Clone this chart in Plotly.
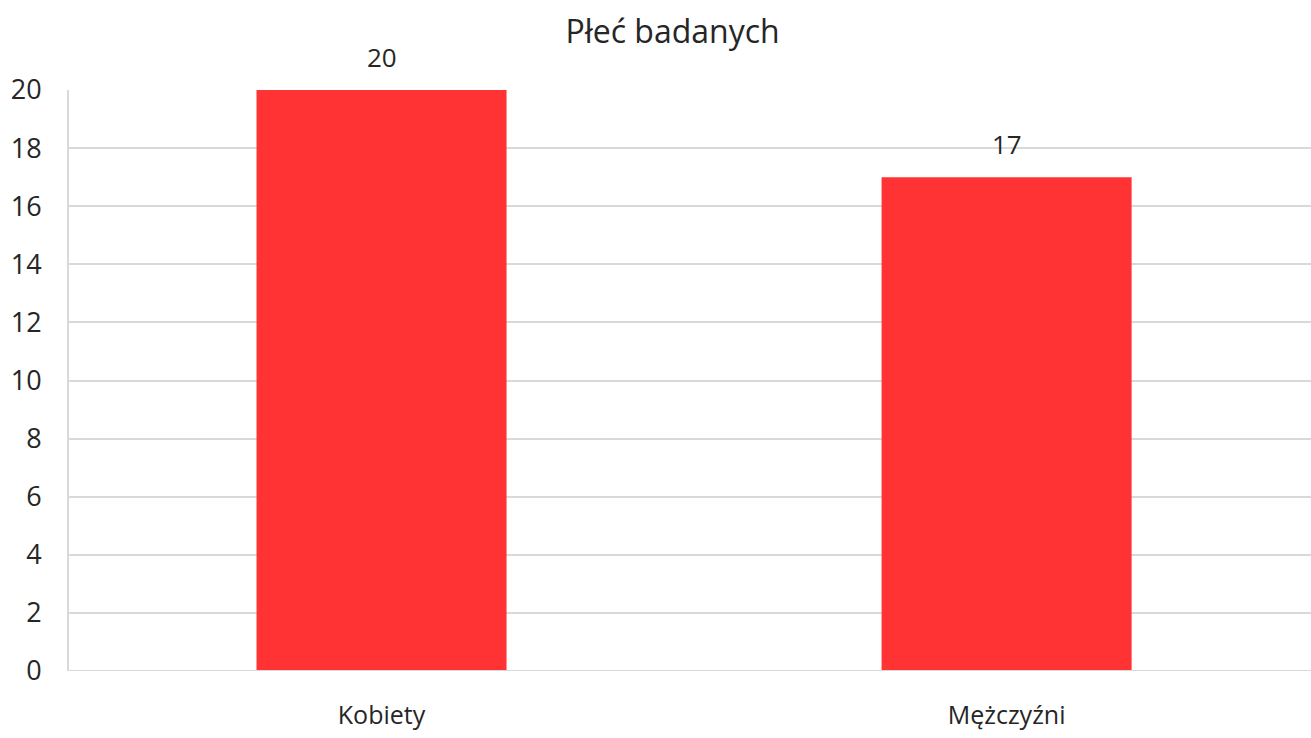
import plotly.graph_objects as go

categories = ["Kobiety", "Mężczyźni"]
values = [20, 17]
title_text = "Płeć badanych"
y_ticks = [0, 2, 4, 6, 8, 10, 12, 14, 16, 18, 20]

FONT = "Open Sans"
fig = go.Figure()
fig.add_trace(go.Bar(
    x=[0, 1], y=values, width=0.4,
    marker=dict(color="#FF3333", line=dict(width=0)),
    hoverinfo="skip",
))
for i, v in enumerate(values):
    fig.add_annotation(x=i, y=v, text=str(v), showarrow=False, yanchor="bottom",
                       yshift=13, font=dict(family=FONT, size=26, color="#262626"))

fig.update_layout(
    width=1311, height=738,
    margin=dict(l=69, r=0, t=90, b=67),
    paper_bgcolor="white", plot_bgcolor="white",
    showlegend=False,
    title=dict(text=title_text, x=0.513, xanchor="center", y=0.957, yanchor="middle",
               font=dict(family=FONT, size=32, color="#262626")),
    xaxis=dict(range=[-0.5, 1.487], tickmode="array", tickvals=[0, 1], ticktext=categories,
               showgrid=False, zeroline=False, showline=False,
               ticks="outside", ticklen=22, tickcolor="rgba(0,0,0,0)",
               tickfont=dict(family=FONT, size=25, color="#262626"), fixedrange=True),
    yaxis=dict(range=[0, 20], tickmode="array", tickvals=y_ticks,
               showgrid=True, gridcolor="#D9D9D9", gridwidth=2,
               zeroline=False, showline=True, linecolor="#D9D9D9", linewidth=2,
               ticks="outside", ticklen=20, tickcolor="rgba(0,0,0,0)",
               tickfont=dict(family=FONT, size=27, color="#262626"), fixedrange=True),
)
fig.add_shape(type="line", xref="paper", yref="y", x0=0, x1=1, y0=0, y1=0,
              line=dict(color="#D9D9D9", width=2))
fig.write_html("out.html", config={"displayModeBar": False},
               post_script="document.body.style.margin='0';document.body.style.overflow='hidden';")
